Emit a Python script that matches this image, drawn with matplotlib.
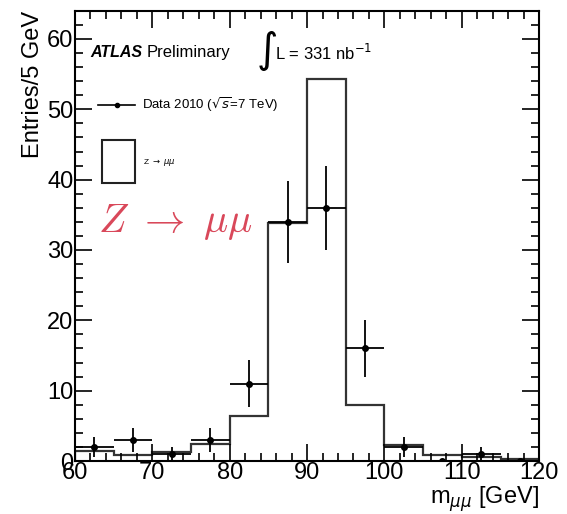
import numpy as np
import matplotlib.pyplot as plt
from matplotlib.patches import Rectangle
from matplotlib.ticker import MultipleLocator

plt.rcParams['font.family'] = ['Liberation Sans', 'DejaVu Sans']

# Bin edges in m_mumu (GeV)
bin_edges = [60, 65, 70, 75, 80, 85, 90, 95, 100, 105, 110, 115, 120]

# Z -> mumu expectation per 5 GeV bin
mc_counts = [1.5, 0.9, 1.3, 2.4, 6.4, 33.8, 54.3, 7.9, 2.3, 0.8, 0.6, 0.3]

# Data 2010 counts per bin
data_counts = [2, 3, 1, 3, 11, 34, 36, 16, 2, 0, 1, 0]

edges = np.array(bin_edges)
centers = 0.5 * (edges[:-1] + edges[1:])
data = np.array(data_counts)
yerr = np.sqrt(data)
xerr = 0.5 * np.diff(edges)

fig = plt.figure(figsize=(5.67, 5.14), dpi=100)
ax = fig.add_axes([0.132, 0.103, 0.819, 0.876])

# MC histogram
ax.stairs(mc_counts, bin_edges, color='#333333', linewidth=1.6, baseline=0)

# data points with Poisson errors
ax.errorbar(centers, data, yerr=yerr, xerr=xerr, fmt='o', color='black',
            markersize=4, elinewidth=1.3, capsize=0)

ax.set_xlim(60, 120)
ax.set_ylim(0, 64)
ax.xaxis.set_major_locator(MultipleLocator(10))
ax.xaxis.set_minor_locator(MultipleLocator(2))
ax.yaxis.set_major_locator(MultipleLocator(10))
ax.yaxis.set_minor_locator(MultipleLocator(2))
ax.tick_params(which='both', direction='in', top=True, right=True, width=1.2)
ax.tick_params(which='major', length=12, labelsize=17, pad=1)
ax.tick_params(which='minor', length=6)
for s in ax.spines.values():
    s.set_linewidth(1.5)

ax.set_ylabel('Entries/5 GeV', fontsize=17, loc='top', labelpad=2)
ax.set_xlabel(r'm$_{\mu\mu}$ [GeV]', fontsize=17, loc='right', labelpad=0)

# ATLAS label
ax.text(0.033, 0.907, 'ATLAS', transform=ax.transAxes, fontsize=11.5,
        fontweight='bold', fontstyle='italic', va='center')
ax.text(0.155, 0.907, 'Preliminary', transform=ax.transAxes, fontsize=12,
        va='center')
ax.text(0.39, 0.912, r'$\int$', transform=ax.transAxes, fontsize=21,
        va='center')
ax.text(0.43, 0.907, r'L = 331 nb$^{-1}$', transform=ax.transAxes,
        fontsize=12, va='center')

# legend
ax.plot([0.05, 0.129], [0.791, 0.791], transform=ax.transAxes, color='black',
        linewidth=1.2)
ax.plot([0.09], [0.791], 'o', transform=ax.transAxes, color='black',
        markersize=3)
ax.text(0.144, 0.791, r'Data 2010 ($\sqrt{s}$=7 TeV)', transform=ax.transAxes,
        fontsize=9.5, va='center')
ax.add_patch(Rectangle((0.058, 0.618), 0.071, 0.095, transform=ax.transAxes,
                       fill=False, edgecolor='#222222', linewidth=1.5))
ax.text(0.147, 0.662, r'Z $\rightarrow$ $\mu\mu$', transform=ax.transAxes,
        fontsize=6, va='center')

# big red label
ax.text(0.05, 0.531, r'$Z\ \rightarrow\ \mu\mu$', transform=ax.transAxes,
        fontsize=29, color='#d9485a', va='center', math_fontfamily='cm')

plt.savefig('out.png', dpi=100)
